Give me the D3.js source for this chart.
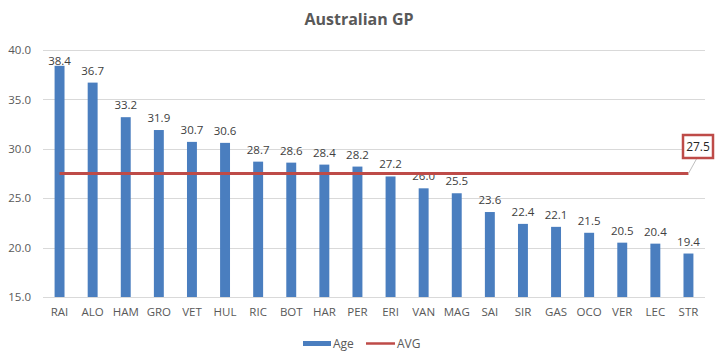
<!DOCTYPE html>
<html><head><meta charset="utf-8">
<script src="https://cdn.jsdelivr.net/npm/d3@7"></script>
<style>html,body{margin:0;padding:0;background:#fff;}svg{display:block;font-family:"Open Sans",sans-serif;}</style>
</head><body><div id="chart"></div>
<script>
const categories = ["RAI","ALO","HAM","GRO","VET","HUL","RIC","BOT","HAR","PER","ERI","VAN","MAG","SAI","SIR","GAS","OCO","VER","LEC","STR"];
const ages = [38.4,36.7,33.2,31.9,30.7,30.6,28.7,28.6,28.4,28.2,27.2,26.0,25.5,23.6,22.4,22.1,21.5,20.5,20.4,19.4];
const avgValue = 27.5;
const yTicks = [15,20,25,30,35,40];
const seriesNames = ["Age","AVG"];

const W = 720, H = 361;
const svg = d3.select("#chart").append("svg").attr("width", W).attr("height", H);

const x = d3.scaleBand().domain(categories).range([43, 705]).paddingInner(0.7).paddingOuter(0.35);
const y = d3.scaleLinear().domain([15, 40]).range([297, 50]);

svg.append("text").attr("x", 359).attr("y", 25).attr("text-anchor", "middle")
  .attr("font-size", 16).attr("font-weight", "bold").attr("fill", "#595959").text("Australian GP");

// gridlines
svg.append("g").selectAll("line").data(yTicks).join("line")
  .attr("x1", 43).attr("x2", 705)
  .attr("y1", d => Math.round(y(d)) + 0.5).attr("y2", d => Math.round(y(d)) + 0.5)
  .attr("stroke", "#d9d9d9").attr("stroke-width", 1);

// y axis labels
const yAxis = d3.axisLeft(y).tickValues(yTicks).tickFormat(d3.format(".1f")).tickSize(0).tickPadding(0);
const gy = svg.append("g").attr("transform", "translate(31,0)").call(yAxis);
gy.select(".domain").remove();
gy.selectAll("text").attr("font-size", 11.5).attr("fill", "#595959").attr("font-family", "Open Sans, sans-serif");

// x axis labels
const xAxis = d3.axisBottom(x).tickSize(0).tickPadding(0);
const gx = svg.append("g").attr("transform", "translate(0,308)").call(xAxis);
gx.select(".domain").remove();
gx.selectAll("text").attr("font-size", 11.5).attr("fill", "#595959").attr("font-family", "Open Sans, sans-serif");

// bars
const bw = x.bandwidth();
svg.append("g").selectAll("rect").data(ages).join("rect")
  .attr("x", (d, i) => x(categories[i]))
  .attr("y", d => y(d))
  .attr("width", bw)
  .attr("height", d => y(15) - y(d))
  .attr("fill", "#4a7ebf");

// data labels
svg.append("g").selectAll("text").data(ages).join("text")
  .attr("x", (d, i) => x(categories[i]) + bw / 2)
  .attr("y", d => Math.max(y(d) - 8, 65))
  .attr("text-anchor", "middle").attr("font-size", 11.5).attr("fill", "#404040")
  .text(d => d3.format(".1f")(d));

// AVG line
const cx0 = x(categories[0]) + bw / 2, cx1 = x(categories[categories.length - 1]) + bw / 2;
const ya = y(avgValue);
svg.append("line").attr("x1", cx0).attr("x2", cx1).attr("y1", ya).attr("y2", ya)
  .attr("stroke", "#be4b48").attr("stroke-width", 3);

// callout
svg.append("line").attr("x1", cx1).attr("y1", ya).attr("x2", 697).attr("y2", 158)
  .attr("stroke", "#bfbfbf").attr("stroke-width", 1);
svg.append("rect").attr("x", 683).attr("y", 135).attr("width", 30).attr("height", 23)
  .attr("fill", "#fff").attr("stroke", "#be4b48").attr("stroke-width", 2.5);
svg.append("text").attr("x", 698).attr("y", 151).attr("text-anchor", "middle")
  .attr("font-size", 12).attr("fill", "#262626").text(d3.format(".1f")(avgValue));

// legend
svg.append("rect").attr("x", 303).attr("y", 341).attr("width", 28).attr("height", 5).attr("fill", "#4a7ebf");
svg.append("text").attr("x", 333).attr("y", 348).attr("font-size", 12).attr("fill", "#595959").text(seriesNames[0]);
svg.append("line").attr("x1", 366).attr("x2", 395).attr("y1", 343.5).attr("y2", 343.5).attr("stroke", "#be4b48").attr("stroke-width", 2.5);
svg.append("text").attr("x", 397).attr("y", 348).attr("font-size", 12).attr("fill", "#595959").text(seriesNames[1]);
</script></body></html>
